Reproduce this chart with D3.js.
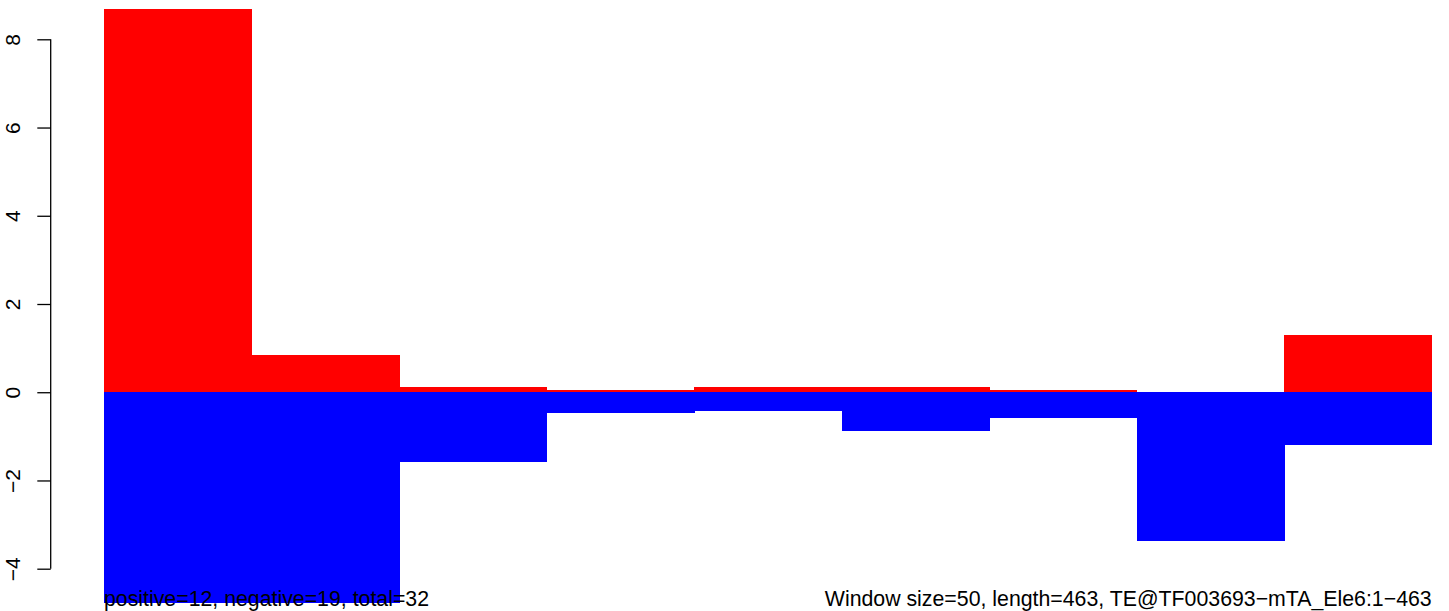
<!DOCTYPE html>
<html>
<head>
<meta charset="utf-8">
<script src="https://cdn.jsdelivr.net/npm/d3@7"></script>
<style>
html,body{margin:0;padding:0;background:#fff;}
svg{display:block;}
text{font-family:"Liberation Sans",Arial,Helvetica,sans-serif;}
</style>
</head>
<body>
<svg id="chart" width="1449" height="611"></svg>
<script>
const windows = ["1-50","51-100","101-150","151-200","201-250","251-300","301-350","351-400","401-463"];
const positive = [8.69, 0.84, 0.12, 0.05, 0.12, 0.12, 0.05, 0.0, 1.30];
const negative = [-4.78, -4.78, -1.58, -0.46, -0.42, -0.88, -0.58, -3.37, -1.20];
const yTicks = [-4, -2, 0, 2, 4, 6, 8];
const leftNote = "positive=12, negative=19, total=32";
const rightNote = "Window size=50, length=463, TE@TF003693\u2212mTA_Ele6:1\u2212463";

const svg = d3.select("#chart");
const x = d3.scaleBand().domain(windows).range([104, 1431.7]).paddingInner(0).paddingOuter(0);
const y = d3.scaleLinear().domain([-4, 8]).range([568.7, 39.3]);

svg.append("g").attr("shape-rendering", "crispEdges").selectAll("rect").data(windows).join("rect")
  .attr("x", d => x(d)).attr("width", x.bandwidth() + 0.5)
  .attr("y", (d, i) => y(Math.max(0, positive[i])))
  .attr("height", (d, i) => Math.abs(y(positive[i]) - y(0)))
  .attr("fill", "#ff0000");

svg.append("g").attr("shape-rendering", "crispEdges").selectAll("rect").data(windows).join("rect")
  .attr("x", d => x(d)).attr("width", x.bandwidth() + 0.5)
  .attr("y", y(0))
  .attr("height", (d, i) => Math.abs(y(negative[i]) - y(0)))
  .attr("fill", "#0000ff");

const axis = d3.axisLeft(y).tickValues(yTicks).tickSize(13.4).tickPadding(0)
  .tickFormat(d => d < 0 ? "\u2212" + Math.abs(d) : String(d));
const ag = svg.append("g").attr("transform", "translate(50.7,0)").call(axis);
ag.select(".domain").attr("d", `M0,${y(-4)}V${y(8)}`).attr("stroke", "#000").attr("stroke-width", 1.3);
ag.selectAll(".tick line").attr("stroke", "#000").attr("stroke-width", 1.3);
ag.selectAll(".tick text")
  .attr("x", null).attr("dy", null)
  .attr("transform", "translate(-31,0) rotate(-90)")
  .attr("text-anchor", "middle")
  .attr("font-size", 21).attr("fill", "#000")
  .style("font-family", "Liberation Sans, Arial, sans-serif");

svg.append("text").attr("x", 104).attr("y", 606).attr("font-size", 21.3)
  .attr("fill", "#000").attr("text-anchor", "start").text(leftNote);
svg.append("text").attr("x", 1431.7).attr("y", 606).attr("font-size", 21.3)
  .attr("fill", "#000").attr("text-anchor", "end").text(rightNote);
</script>
</body>
</html>
